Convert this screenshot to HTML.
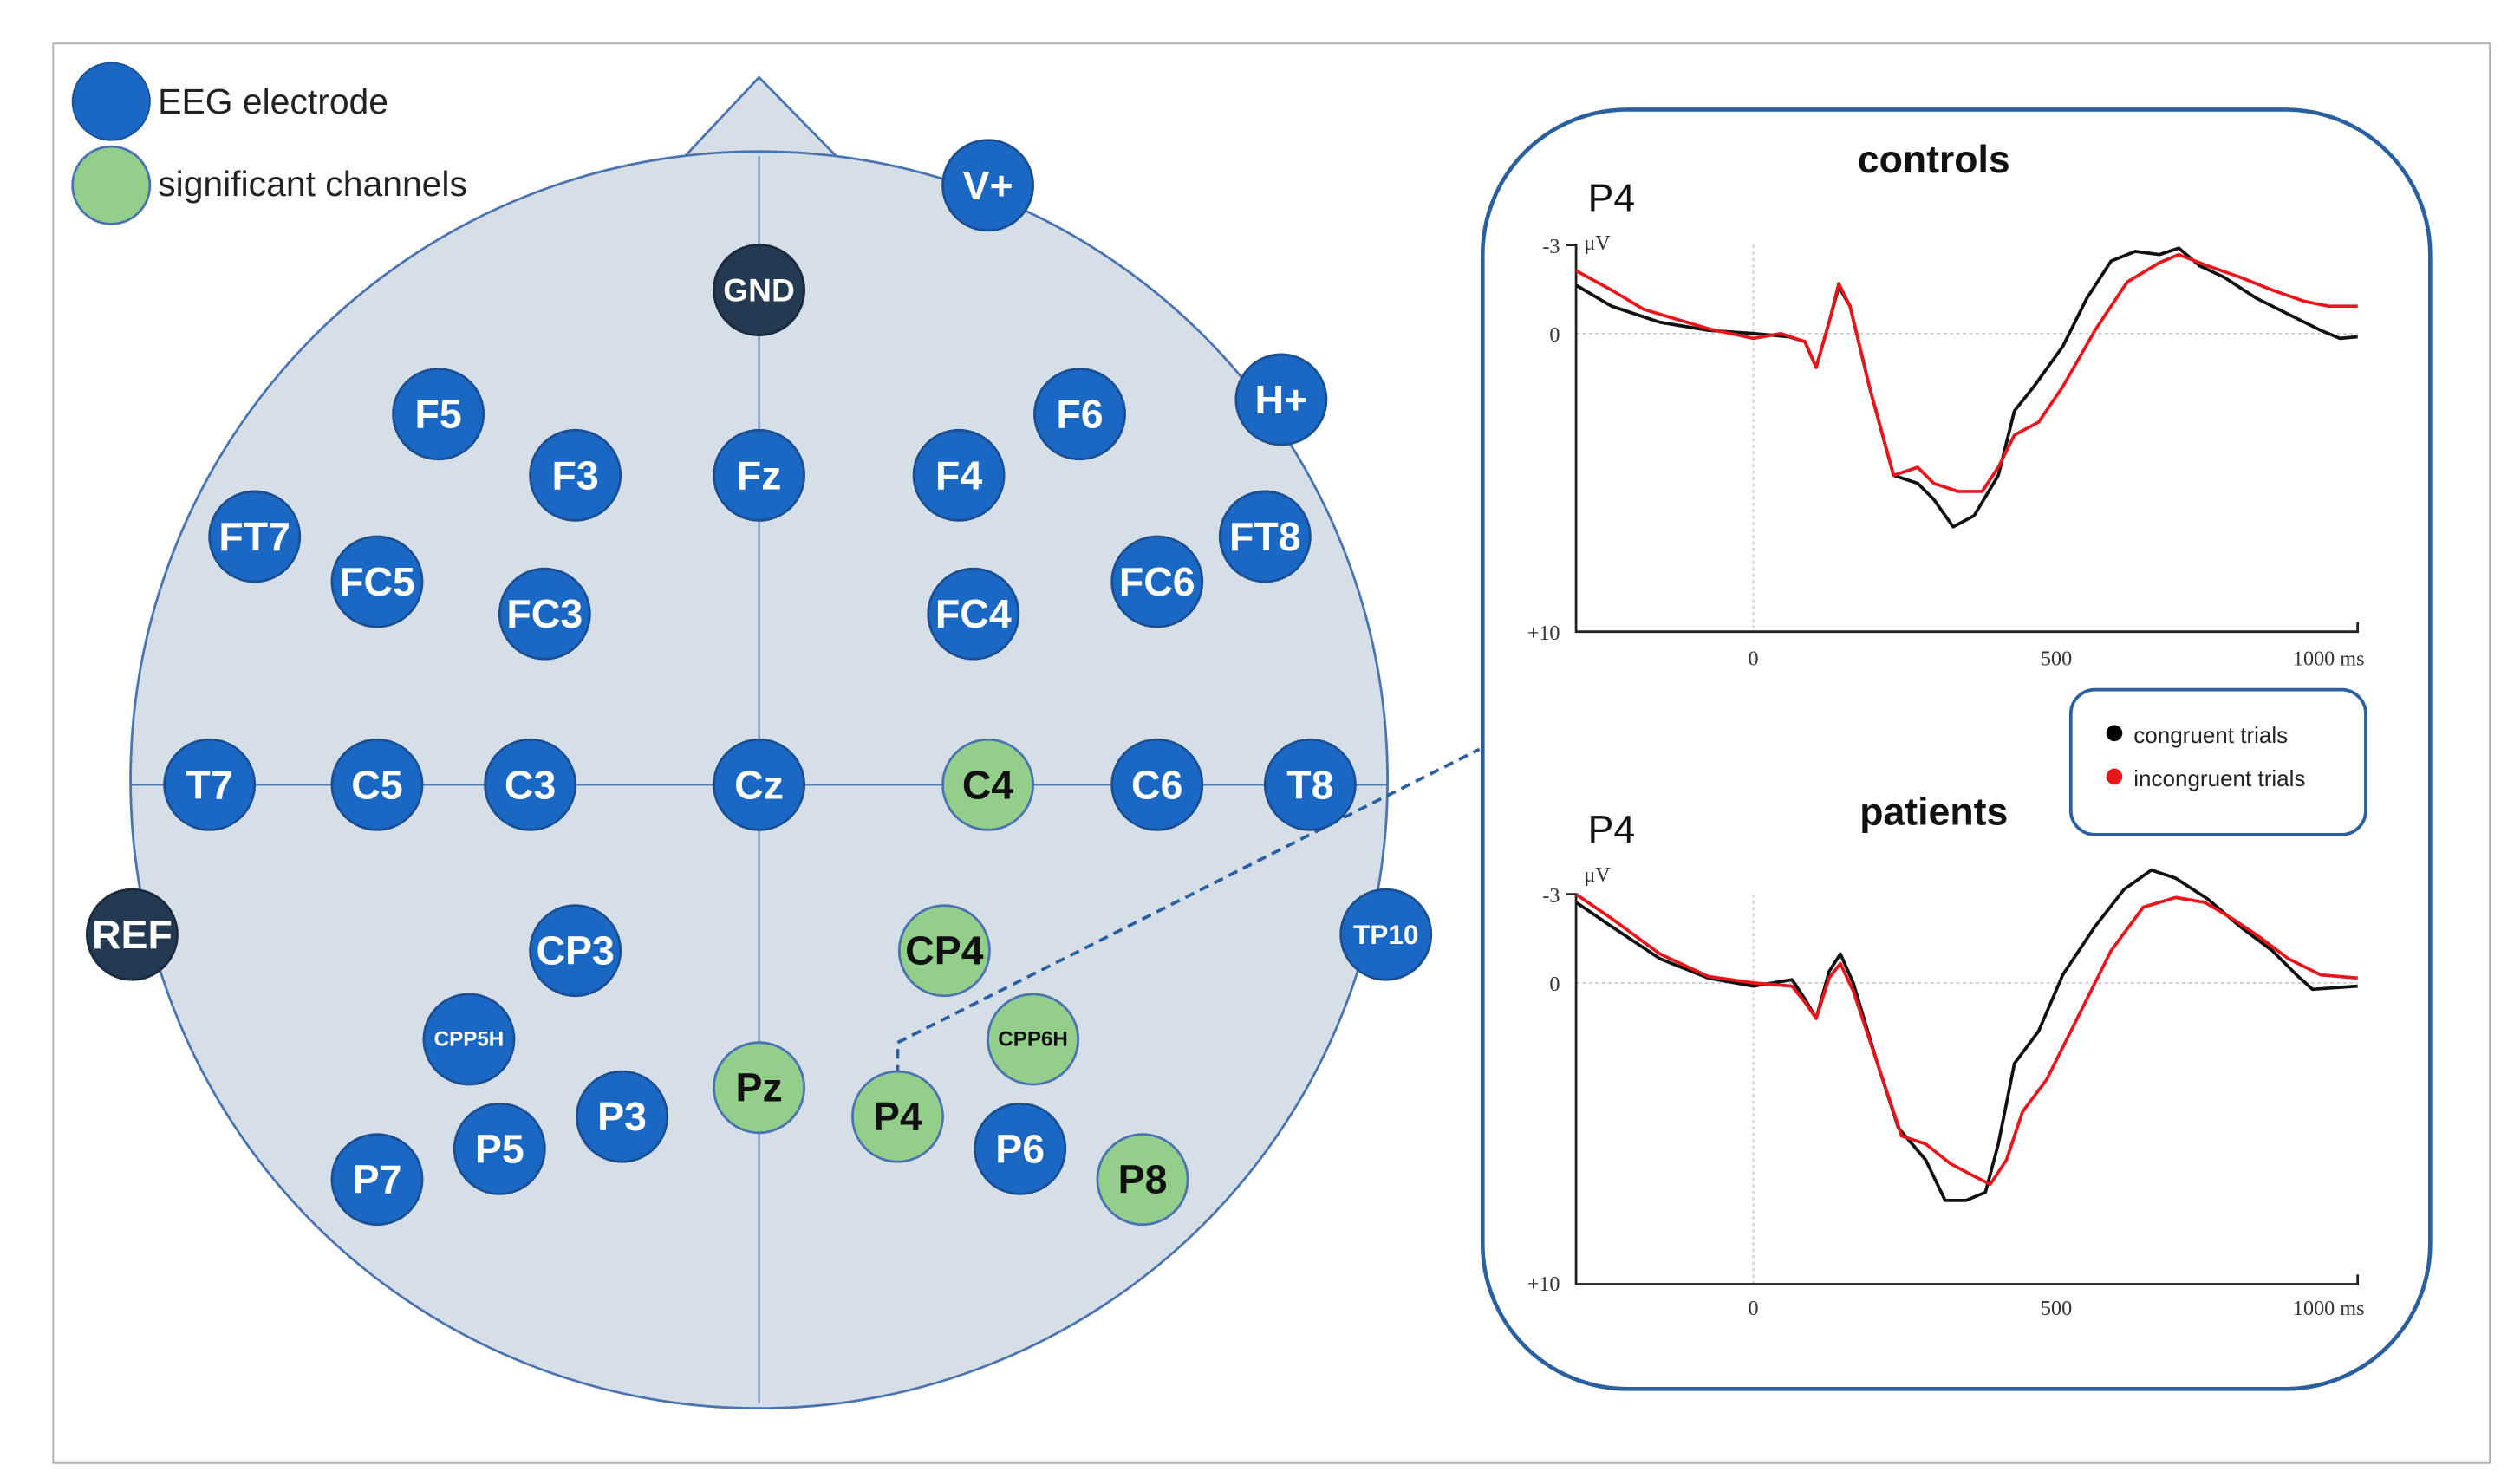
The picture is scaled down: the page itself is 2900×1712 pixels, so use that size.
<!DOCTYPE html>
<html><head><meta charset="utf-8"><style>
html,body{margin:0;padding:0;background:#fff;}
svg{display:block;}
.e{font-family:"Liberation Sans",sans-serif;font-weight:bold;text-anchor:middle;dominant-baseline:central;}
</style></head><body>
<svg width="2900" height="1712" viewBox="0 0 1560 921" preserveAspectRatio="none" xmlns="http://www.w3.org/2000/svg">
<rect x="33" y="27" width="1512" height="881" fill="#fff" stroke="#b0b0b0" stroke-width="1"/>
<!-- head -->
<polygon points="425,97 471,48 519,97" fill="#d6dee8" stroke="#4a74b0" stroke-width="1.5"/>
<circle cx="471" cy="484" r="390" fill="#d6dee8" stroke="#4a74b0" stroke-width="1.5"/>
<line x1="471" y1="97" x2="471" y2="871" stroke="#6f8fbf" stroke-width="1.2"/>
<line x1="81" y1="487" x2="861" y2="487" stroke="#4a74b0" stroke-width="1.2"/>
<!-- dashed connector -->
<polyline points="557,667 557,647 918,465" fill="none" stroke="#2a5fa0" stroke-width="2" stroke-dasharray="6,4"/>
<!-- legend -->
<circle cx="69" cy="63" r="24" fill="#1a68c4" stroke="#1a4f94" stroke-width="1"/>
<text x="98" y="63" font-family="Liberation Sans,sans-serif" font-size="22" dominant-baseline="central" fill="#222">EEG electrode</text>
<circle cx="69" cy="115" r="24" fill="#93cf8a" stroke="#4a74b0" stroke-width="1.5"/>
<text x="98" y="114" font-family="Liberation Sans,sans-serif" font-size="22" dominant-baseline="central" fill="#222">significant channels</text>
<g stroke-width="1.5">
<g fill="#1a68c4" stroke="#1a4f94">
<circle cx="613" cy="115" r="28"/><circle cx="272" cy="257" r="28"/><circle cx="357" cy="295" r="28"/>
<circle cx="471" cy="295" r="28"/><circle cx="595" cy="295" r="28"/><circle cx="670" cy="257" r="28"/>
<circle cx="795" cy="248" r="28"/><circle cx="158" cy="333" r="28"/><circle cx="234" cy="361" r="28"/>
<circle cx="338" cy="381" r="28"/><circle cx="604" cy="381" r="28"/><circle cx="718" cy="361" r="28"/>
<circle cx="785" cy="333" r="28"/><circle cx="130" cy="487" r="28"/><circle cx="234" cy="487" r="28"/>
<circle cx="329" cy="487" r="28"/><circle cx="471" cy="487" r="28"/><circle cx="718" cy="487" r="28"/>
<circle cx="813" cy="487" r="28"/><circle cx="860" cy="580" r="28"/><circle cx="357" cy="590" r="28"/>
<circle cx="291" cy="645" r="28"/><circle cx="386" cy="693" r="28"/><circle cx="310" cy="713" r="28"/>
<circle cx="633" cy="713" r="28"/><circle cx="234" cy="732" r="28"/>
</g>
<g fill="#243a52" stroke="#1a2a3c">
<circle cx="471" cy="180" r="28"/><circle cx="82" cy="580" r="28"/>
</g>
<g fill="#93cf8a" stroke="#4a74b0">
<circle cx="613" cy="487" r="28"/><circle cx="586" cy="590" r="28"/><circle cx="641" cy="645" r="28"/>
<circle cx="471" cy="675" r="28"/><circle cx="557" cy="693" r="28"/><circle cx="709" cy="732" r="28"/>
</g>
</g>
<g class="e" fill="#fff" font-size="25">
<text x="613" y="115">V+</text><text x="272" y="257">F5</text><text x="357" y="295">F3</text>
<text x="471" y="295">Fz</text><text x="595" y="295">F4</text><text x="670" y="257">F6</text>
<text x="795" y="248">H+</text><text x="158" y="333">FT7</text><text x="234" y="361">FC5</text>
<text x="338" y="381">FC3</text><text x="604" y="381">FC4</text><text x="718" y="361">FC6</text>
<text x="785" y="333">FT8</text><text x="130" y="487">T7</text><text x="234" y="487">C5</text>
<text x="329" y="487">C3</text><text x="471" y="487">Cz</text><text x="718" y="487">C6</text>
<text x="813" y="487">T8</text><text x="357" y="590">CP3</text>
<text x="386" y="693">P3</text><text x="310" y="713">P5</text>
<text x="633" y="713">P6</text><text x="234" y="732">P7</text>
<text x="82" y="580">REF</text>
<text x="471" y="180" font-size="20">GND</text>
<text x="860" y="580" font-size="17">TP10</text>
<text x="291" y="645" font-size="13">CPP5H</text>
</g>
<g class="e" fill="#111" font-size="25">
<text x="613" y="487">C4</text><text x="586" y="590">CP4</text><text x="471" y="675">Pz</text>
<text x="557" y="693">P4</text><text x="709" y="732">P8</text>
<text x="641" y="645" font-size="13">CPP6H</text>
</g>
<!-- right panel -->
<rect x="920" y="68" width="588" height="794" rx="90" ry="90" fill="#fff" stroke="#2a5fa0" stroke-width="2.5"/>
<g font-family="Liberation Sans,sans-serif">
<text x="1200" y="107" font-size="24" font-weight="bold" text-anchor="middle" fill="#111">controls</text>
<text x="1000" y="131" font-size="24" text-anchor="middle" fill="#111">P4</text>
<text x="1200" y="512" font-size="24" font-weight="bold" text-anchor="middle" fill="#111">patients</text>
<text x="1000" y="523" font-size="24" text-anchor="middle" fill="#111">P4</text>
</g>
<g font-family="Liberation Serif,serif" font-size="13" fill="#333">
<text x="968" y="157" text-anchor="end">-3</text><text x="983" y="155">μV</text>
<text x="968" y="212" text-anchor="end">0</text><text x="968" y="397" text-anchor="end">+10</text>
<text x="1088" y="413" text-anchor="middle">0</text><text x="1276" y="413" text-anchor="middle">500</text><text x="1445" y="413" text-anchor="middle">1000 ms</text>
<text x="968" y="560" text-anchor="end">-3</text><text x="983" y="547">μV</text>
<text x="968" y="615" text-anchor="end">0</text><text x="968" y="801" text-anchor="end">+10</text>
<text x="1088" y="816" text-anchor="middle">0</text><text x="1276" y="816" text-anchor="middle">500</text><text x="1445" y="816" text-anchor="middle">1000 ms</text>
</g>
<g stroke="#ccc" stroke-width="1" stroke-dasharray="2,2">
<line x1="978" y1="207" x2="1463" y2="207"/><line x1="1088" y1="152" x2="1088" y2="392"/>
<line x1="978" y1="610" x2="1463" y2="610"/><line x1="1088" y1="555" x2="1088" y2="797"/>
</g>
<g stroke="#222" stroke-width="1.5" fill="none">
<polyline points="972,152 978,152 978,392 1463,392 1463,386"/>
<polyline points="972,555 978,555 978,797 1463,797 1463,791"/>
</g>
<g fill="none" stroke-width="2" stroke-linejoin="round">
<polyline stroke="#111" points="978,177 1000,190 1030,200 1060,205 1088,207 1110,209 1120,212 1127,228 1135,200 1141,178 1148,190 1160,240 1175,295 1190,300 1200,310 1212,327 1225,320 1240,295 1250,255 1262,240 1280,215 1295,185 1310,162 1325,156 1340,158 1352,154 1365,165 1380,172 1400,185 1420,195 1440,205 1452,210 1463,209"/>
<polyline stroke="#e8151a" points="978,168 1000,180 1020,192 1060,204 1088,210 1105,207 1120,212 1127,228 1135,200 1141,176 1148,190 1160,240 1175,295 1190,290 1200,300 1215,305 1230,305 1240,290 1250,270 1265,262 1280,240 1300,205 1320,175 1340,163 1352,158 1370,165 1390,172 1410,180 1430,187 1445,190 1463,190"/>
<polyline stroke="#111" points="978,560 1000,575 1030,595 1060,607 1088,612 1100,610 1112,608 1120,620 1127,632 1135,603 1142,592 1150,610 1165,660 1178,700 1195,720 1207,745 1220,745 1232,740 1240,710 1250,660 1265,640 1280,605 1300,575 1318,552 1335,540 1350,545 1370,558 1390,575 1410,590 1425,605 1435,614 1463,612"/>
<polyline stroke="#e8151a" points="978,555 1000,570 1030,592 1060,606 1088,610 1112,612 1120,622 1127,632 1135,607 1142,598 1150,615 1165,660 1180,705 1195,710 1210,722 1225,730 1235,735 1245,720 1255,690 1270,670 1290,630 1310,590 1330,563 1350,557 1368,560 1385,570 1400,580 1420,595 1440,605 1463,607"/>
</g>
<!-- curve legend -->
<rect x="1285" y="428" width="183" height="90" rx="15" ry="15" fill="#fff" stroke="#2a5fa0" stroke-width="2"/>
<circle cx="1312" cy="455" r="5" fill="#000"/>
<circle cx="1312" cy="482" r="5" fill="#e8151a"/>
<g font-family="Liberation Sans,sans-serif" font-size="14" fill="#222">
<text x="1324" y="461">congruent trials</text>
<text x="1324" y="488">incongruent trials</text>
</g>
</svg>
</body></html>
